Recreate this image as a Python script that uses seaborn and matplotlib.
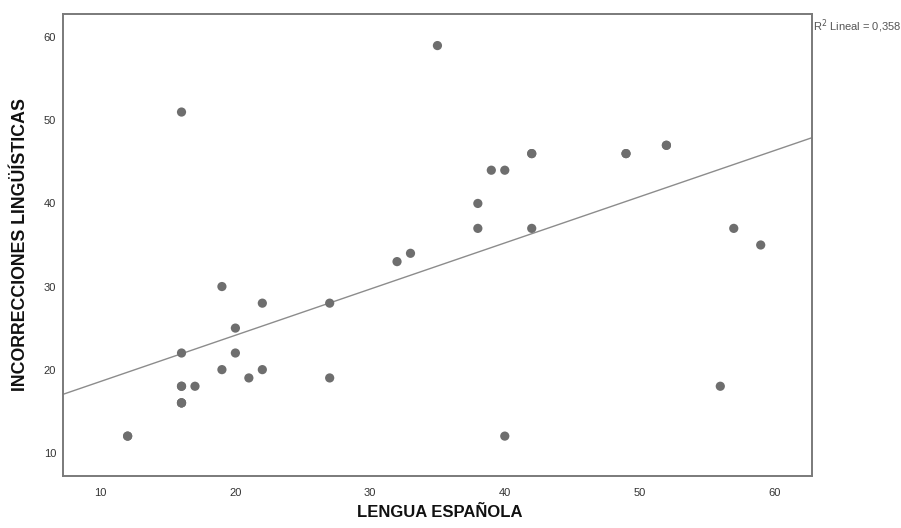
import numpy as np
import pandas as pd
import matplotlib
matplotlib.use("Agg")
import matplotlib.pyplot as plt
import seaborn as sns

# puntuaciones (algunos casos se superponen en el mismo punto)
lengua = [35, 16, 39, 40, 38, 38, 33, 32, 42, 42, 49, 52, 57, 59, 19, 22,
          27, 20, 16, 20, 19, 22, 21, 27, 16, 17, 16, 16, 12, 40, 56,
          52, 49, 42, 12, 16, 16]
incorrecciones = [59, 51, 44, 44, 40, 37, 34, 33, 46, 37, 46, 47, 37, 35, 30, 28,
                  28, 25, 22, 22, 20, 20, 19, 19, 18, 18, 16, 16, 12, 12, 18,
                  47, 46, 46, 12, 16, 18]
r2_label = "0,358"
ticks = [10, 20, 30, 40, 50, 60]

df = pd.DataFrame({"LENGUA ESPAÑOLA": lengua,
                   "INCORRECCIONES LINGÜÍSTICAS": incorrecciones})

sns.set_style("white")
plt.rcParams['font.family'] = ['Liberation Sans', 'DejaVu Sans']

fig = plt.figure(figsize=(9.01, 5.28), dpi=100)
ax = fig.add_axes([0.0699, 0.0985, 0.8312, 0.875])
ax.set_xlim(7.2, 62.8)
ax.set_ylim(7.2, 62.8)

sns.scatterplot(data=df, x="LENGUA ESPAÑOLA", y="INCORRECCIONES LINGÜÍSTICAS",
                ax=ax, s=44, color="#6e6e6e", edgecolor="none", zorder=3)
sns.regplot(data=df, x="LENGUA ESPAÑOLA", y="INCORRECCIONES LINGÜÍSTICAS",
            ax=ax, scatter=False, ci=None, truncate=False,
            line_kws={"color": "#8c8c8c", "lw": 1.0})
ax.set_xlim(7.2, 62.8)
ax.set_ylim(7.2, 62.8)

ax.set_xticks(ticks)
ax.set_yticks(ticks)
ax.tick_params(length=0, labelsize=8, labelcolor="#333333")
ax.tick_params(axis="x", pad=9)
ax.tick_params(axis="y", pad=5)

for sp in ax.spines.values():
    sp.set_color("#7a7a7a")
    sp.set_linewidth(1.4)

ax.set_xlabel("LENGUA ESPAÑOLA", fontsize=12, fontweight="bold", color="#111111")
ax.set_ylabel("INCORRECCIONES LINGÜÍSTICAS", fontsize=12.8, fontweight="bold", color="#111111")
ax.xaxis.set_label_coords(0.503, -0.063)
ax.yaxis.set_label_coords(-0.046, 0.5)

fig.text(0.902, 1 - 17 / 528, "R$^2$ Lineal = " + r2_label, fontsize=8,
         color="#555555", ha="left", va="top")

fig.savefig("out.png", dpi=100)
